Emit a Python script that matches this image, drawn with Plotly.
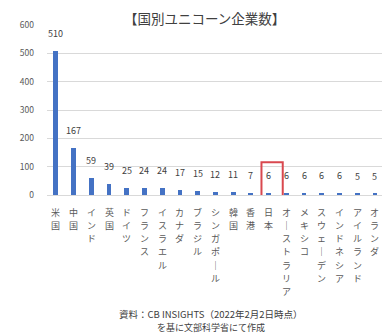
import plotly.graph_objects as go

# Unicorn companies by country (CB Insights, as of 2 Feb 2022)
countries = ["米国", "中国", "インド", "英国", "ドイツ", "フランス", "イスラエル",
             "カナダ", "ブラジル", "シンガポール", "韓国", "香港", "日本",
             "オーストラリア", "メキシコ", "スウェーデン", "インドネシア",
             "アイルランド", "オランダ"]
counts = [510, 167, 59, 39, 25, 24, 24, 17, 15, 12, 11, 7, 6, 6, 6, 6, 6, 5, 5]
y_ticks = [0, 100, 200, 300, 400, 500, 600]
highlight = "日本"

FONT = "Noto Sans CJK JP"
BLUE = "#4472C4"
GREY_TXT = "#595959"

idx = list(range(len(countries)))

fig = go.Figure(go.Bar(
    x=idx, y=counts, width=0.27,
    marker=dict(color=BLUE, line=dict(width=0)),
    hoverinfo="skip",
))

# value labels above each bar
for i, v in zip(idx, counts):
    fig.add_annotation(x=i, y=v, text=str(v), showarrow=False,
                       yanchor="bottom", yshift=9,
                       font=dict(family=FONT, size=9, color="#404040"))

# category names written vertically (one glyph per row) under each bar;
# the long vowel mark is turned into a vertical stroke
ROW = 13.3
for i, name in zip(idx, countries):
    for k, ch in enumerate(name):
        fig.add_annotation(x=i, xref="x", y=0, yref="paper",
                           text="｜" if ch == "ー" else ch, showarrow=False,
                           yanchor="middle", yshift=-(17 + k * ROW),
                           font=dict(family=FONT, size=9, color=GREY_TXT))

hi = countries.index(highlight)
fig.add_shape(type="rect", xref="x", yref="y",
              x0=hi - 0.4, x1=hi + 0.8, y0=-39, y1=116,
              line=dict(color="#D9484F", width=2), layer="above")

fig.add_annotation(xref="paper", yref="paper", x=0.47, y=1.0, yshift=7,
                   yanchor="middle",
                   text="【国別ユニコーン企業数】", showarrow=False,
                   font=dict(family=FONT, size=13.5, color="#404040"))

fig.add_annotation(xref="paper", yref="paper", x=0.49, y=0, yshift=-119,
                   text="資料：CB INSIGHTS（2022年2月2日時点）", showarrow=False,
                   yanchor="middle",
                   font=dict(family=FONT, size=9.5, color="#404040"))
fig.add_annotation(xref="paper", yref="paper", x=0.49, y=0, yshift=-132,
                   text="を基に文部科学省にて作成", showarrow=False,
                   yanchor="middle",
                   font=dict(family=FONT, size=9, color="#404040"))

fig.update_xaxes(
    range=[-0.5, 18.4],
    tickmode="array", tickvals=idx, ticktext=[""] * len(idx),
    ticks="", showgrid=False, showline=False, zeroline=False,
)
fig.update_yaxes(
    range=[0, 600], tickmode="array", tickvals=y_ticks,
    tickfont=dict(family=FONT, size=8.5, color=GREY_TXT),
    showgrid=True, gridcolor="#D9D9D9", gridwidth=1,
    zeroline=True, zerolinecolor="#D9D9D9", zerolinewidth=1,
    showline=False, ticks="", ticklabelstandoff=12,
)

fig.update_layout(
    width=382, height=333,
    margin=dict(l=47, r=0, t=25, b=138),
    paper_bgcolor="white", plot_bgcolor="white",
    showlegend=False, bargap=0,
)

fig.write_html("out.html")
